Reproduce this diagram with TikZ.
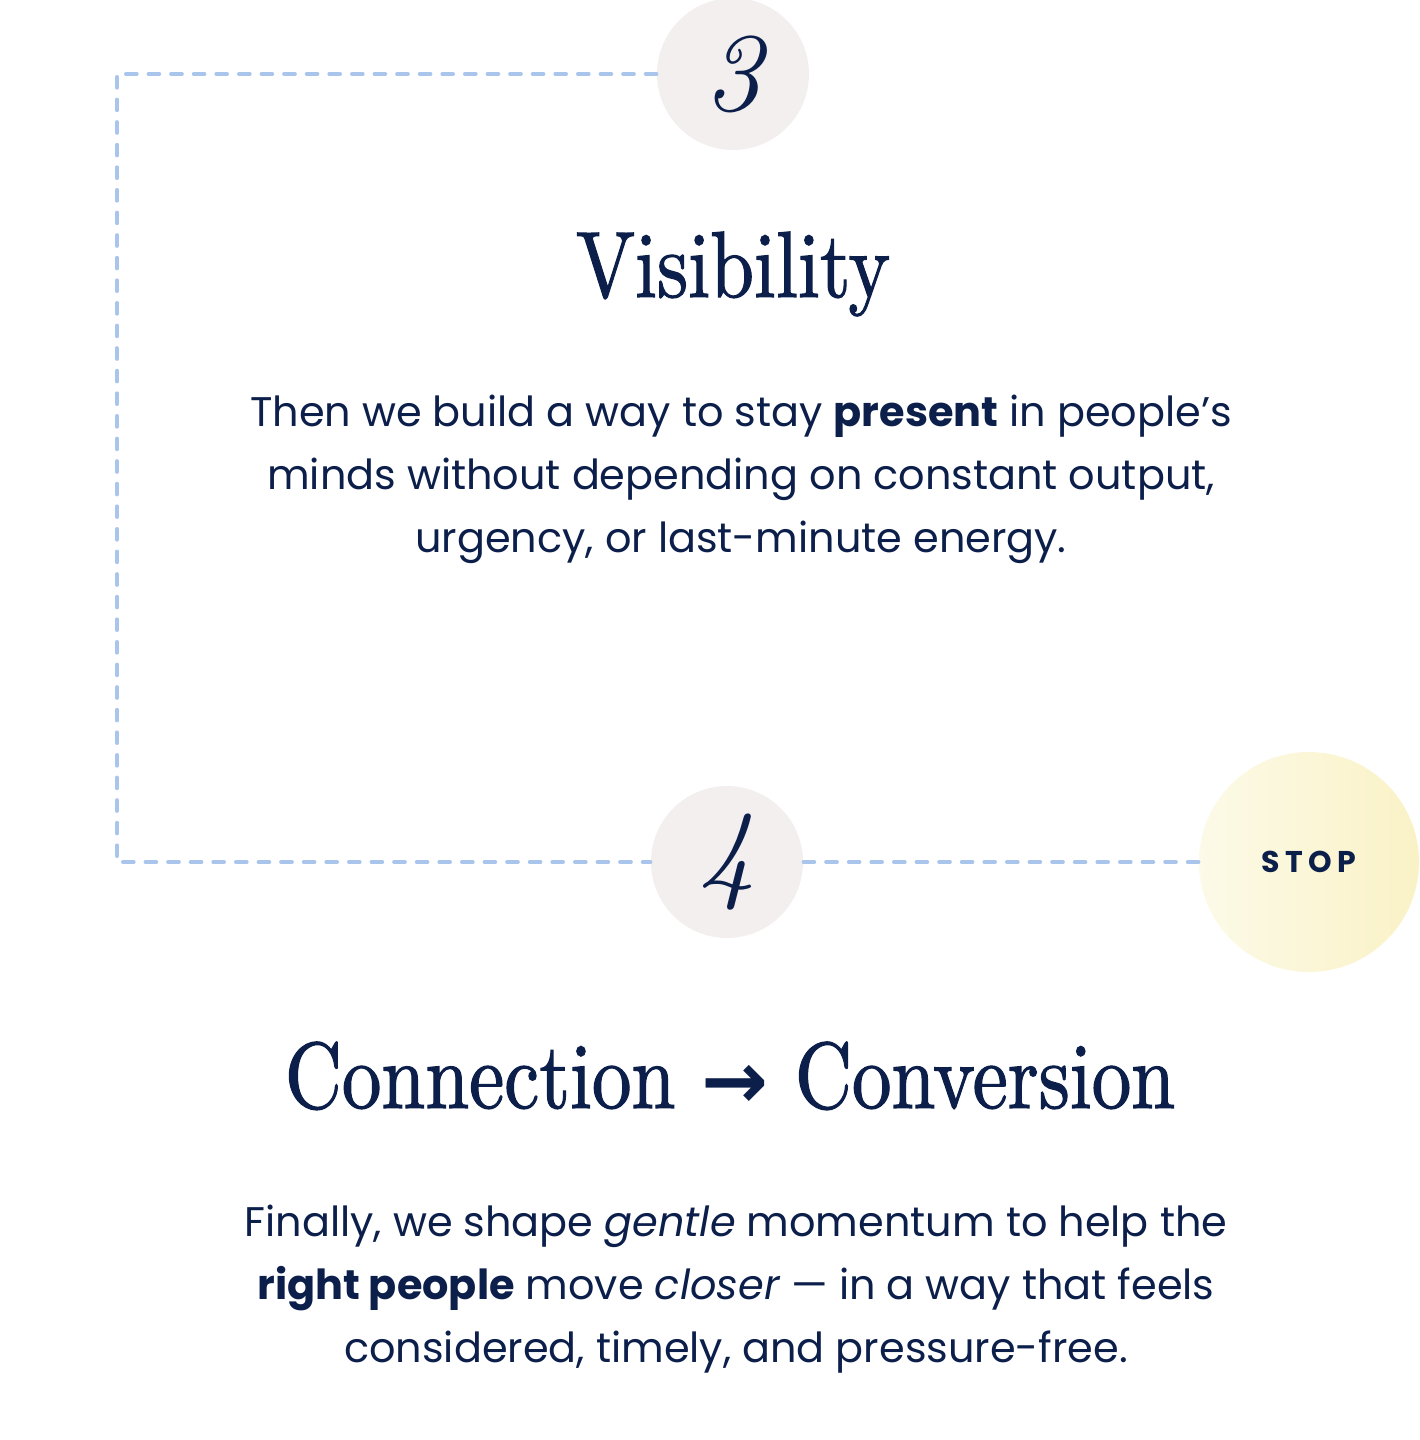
\documentclass[tikz,border=0pt]{standalone}
\usepackage{fontspec}
\setmainfont{Poppins}
\newfontfamily\headfont[FakeStretch=0.84,FakeBold=1.2]{lmroman10-regular.otf}
\newfontfamily\handfont{lmroman10-italic.otf}
\newfontfamily\arrowfont{DejaVu Sans}
\usetikzlibrary{positioning}
\definecolor{ink}{HTML}{0C1F4B}
\definecolor{trailblue}{HTML}{A9C5EB}
\definecolor{blush}{HTML}{F4EFEF}
\definecolor{stopleft}{HTML}{FCFAE8}
\definecolor{stopright}{HTML}{FAF2C6}
\newcommand{\handnum}[1]{{\handfont\fontsize{56}{56}\selectfont #1}}
\newcommand{\stoplabel}[1]{{\addfontfeatures{LetterSpace=18}\bfseries\fontsize{15}{15}\selectfont #1}}
\tikzset{
  numdisc/.style={circle, fill=blush, minimum size=76pt, inner sep=0pt, text=ink},
  stopdisc/.style={circle, left color=stopleft, right color=stopright, minimum size=110pt, inner sep=0pt, text=ink},
  trail/.style={trailblue, line width=1.8pt, line cap=round, line join=round, dash pattern=on 5.5pt off 5.8pt},
  headline/.style={anchor=base, text=ink, font=\headfont\fontsize{47}{47}\selectfont},
  bodytext/.style={anchor=base, align=center, text=ink, font=\fontsize{20.7}{31.3}\selectfont}
}
\begin{document}
\begin{tikzpicture}[x=0.5pt,y=-0.5pt]
  \useasboundingbox (0,0) rectangle (1419,1440);
  % trail
  \coordinate (bendtop) at (117,74);
  \coordinate (bendbot) at (117,862);
  % discs
  \node[numdisc] (three) at (733,74) {\handnum{3}};
  \node[numdisc] (four) at (727,862) {\handnum{4}};
  \node[stopdisc] (stop) at (1309,862) {\stoplabel{STOP}};
  \draw[trail] (three.west) -- (bendtop) -- (bendbot) -- (four.west);
  \draw[trail] (four.east) -- (stop.west);
  % step 3
  \node[headline] (vishead) at (733,297) {Visibility};
  \node[bodytext] (visbody) at (741,552) {Then we build a way to stay \textbf{present} in people’s\\
    minds without depending on constant output,\\
    urgency, or last-minute energy.};
  % step 4
  \node[headline] (convhead) at (730,1108) {Connection {\arrowfont\bfseries\fontsize{40}{40}\selectfont →} Conversion};
  \node[bodytext] (convbody) at (736,1362) {Finally, we shape \textit{gentle} momentum to help the\\
    \textbf{right people} move \textit{closer} — in a way that feels\\
    considered, timely, and pressure-free.};
\end{tikzpicture}
\end{document}
